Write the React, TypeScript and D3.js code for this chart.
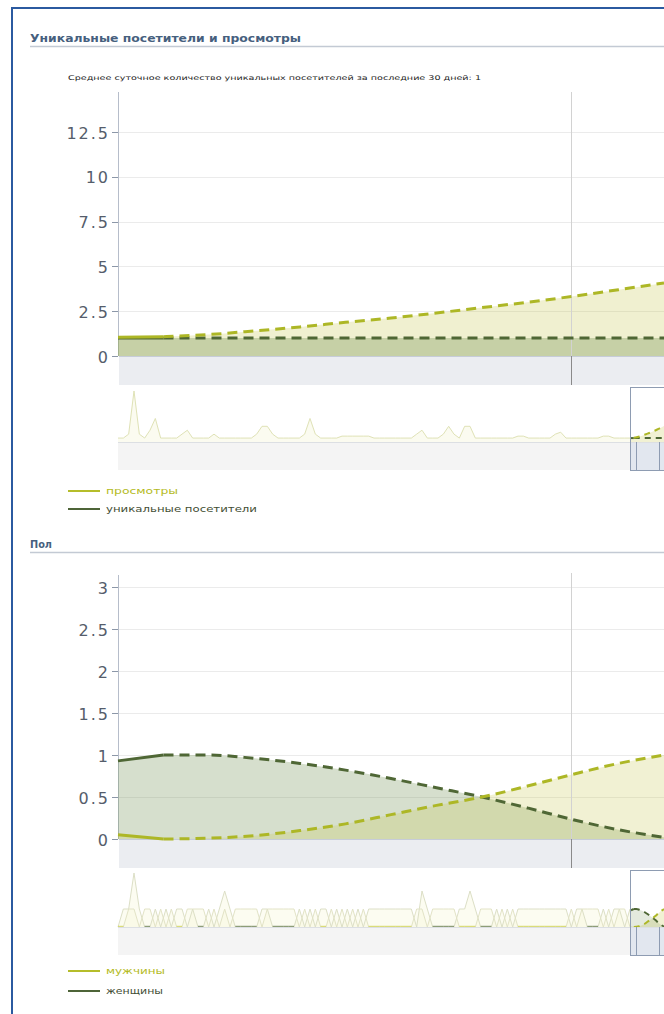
import React from 'react';
import * as d3 from 'd3';

// ---------- DATA ----------
const mainSteps = [0, 1, 2, 3, 4, 5, 6, 7, 8, 9, 10, 11, 12];
const viewsSeries = [1.05, 1.08, 1.2, 1.4, 1.62, 1.88, 2.12, 2.4, 2.7, 3.0, 3.33, 3.7, 4.08];
const visitorsSeries = [1, 1, 1, 1, 1, 1, 1, 1, 1, 1, 1, 1, 1];
const yTicks1 = [0, 2.5, 5, 7.5, 10, 12.5];

const menSeries = [0.05, 0.0, 0.01, 0.04, 0.1, 0.18, 0.29, 0.4, 0.5, 0.63, 0.77, 0.9, 1.0];
const womenSeries = [0.93, 1.0, 1.0, 0.96, 0.9, 0.82, 0.72, 0.61, 0.5, 0.37, 0.23, 0.11, 0.02];
const yTicks2 = [0, 0.5, 1, 1.5, 2, 2.5, 3];

const navViews = [
  1, 1, 2, 13, 2, 1, 3, 6, 1, 1, 1, 1, 2, 3, 1, 1, 1, 1, 2, 1,
  1, 1, 1, 1, 1, 1, 2, 4, 4, 2, 1, 1, 1, 1, 1, 2, 6, 2, 1, 1,
  1, 1, 1.5, 1.5, 1.5, 1.5, 1.5, 1.5, 1, 1, 1, 1, 1, 1, 1, 1, 2, 3, 1, 1,
  1, 2, 4, 2, 1, 4, 4, 1, 1, 1, 1, 1, 1, 1, 1, 1.5, 1.5, 1, 1, 1,
  1, 1, 2, 2.5, 1, 1, 1, 1, 1, 1, 1, 1.5, 1.5, 1, 1, 1, 1,
];

const navWomen = [
  0, 1, 1, 3, 1, 0, 0, 1, 0, 1, 0, 1, 1, 0, 1, 0, 0, 1, 0, 1,
  2, 1, 0, 0, 0, 0, 0, 1, 1, 0, 0, 0, 0, 0, 1, 0, 1, 0, 1, 1,
  0, 1, 0, 1, 0, 1, 0, 1, 1, 1, 1, 1, 1, 1, 1, 1, 0, 2, 1, 0,
  0, 0, 0, 0, 1, 1, 2, 1, 0, 0, 0, 1, 0, 1, 0, 1, 1, 1, 1, 1,
  1, 1, 1, 1, 1, 0, 1, 1, 0, 0, 0, 1, 0, 1, 1, 0, 1,
];
const navMen = [
  0, 0, 1, 1, 0, 1, 1, 0, 1, 0, 1, 0, 0, 1, 1, 1, 1, 0, 1, 0,
  1, 0, 1, 1, 1, 1, 1, 0, 1, 1, 1, 1, 1, 1, 0, 1, 0, 1, 0, 0,
  1, 0, 1, 0, 1, 0, 1, 0, 0, 0, 0, 0, 0, 0, 0, 0, 1, 1, 0, 1,
  1, 1, 1, 1, 0, 0, 0, 0, 1, 1, 1, 0, 1, 0, 1, 0, 0, 0, 0, 0,
  0, 0, 0, 0, 0, 1, 0, 1, 1, 1, 1, 0, 1, 0, 1, 1, 0,
];

const title1 = 'Уникальные посетители и просмотры';
const subtitle1 = 'Среднее суточное количество уникальных посетителей за последние 30 дней: 1';
const title2 = 'Пол';
const legend1 = ['просмотры', 'уникальные посетители'];
const legend2 = ['мужчины', 'женщины'];

// ---------- STYLE ----------
const YELLOW = '#adb726';
const GREEN = '#4f6735';
const FONT = 'DejaVu Sans, Verdana, sans-serif';

const x = d3.scaleLinear().domain([0, 12]).range([118, 664]);
const miniX = d3.scaleLinear().domain([0, 12]).range([631, 664]);
const navX = d3.scaleLinear().domain([0, navViews.length - 1]).range([118, 630]);

function splitLines(values: number[], ys: d3.ScaleLinear<number, number>, xs: d3.ScaleLinear<number, number>) {
  const line = d3
    .line<number>()
    .x((_, i) => xs(mainSteps[i]))
    .y((d) => ys(d))
    .curve(d3.curveMonotoneX);
  const lineD = d3
    .line<number>()
    .x((_, i) => xs(mainSteps[i + 1]))
    .y((d) => ys(d))
    .curve(d3.curveMonotoneX);
  return { solid: line(values.slice(0, 2)) || '', dashed: lineD(values.slice(1)) || '' };
}

function areaPath(values: number[], ys: d3.ScaleLinear<number, number>, xs: d3.ScaleLinear<number, number>) {
  return (
    d3
      .area<number>()
      .x((_, i) => xs(mainSteps[i]))
      .y0(ys(0))
      .y1((d) => ys(d))
      .curve(d3.curveMonotoneX)(values) || ''
  );
}

function fmt(v: number) {
  return String(v);
}

function YAxis({ ticks, ys, top }: { ticks: number[]; ys: d3.ScaleLinear<number, number>; top: number }) {
  return (
    <g>
      {ticks.map((t) =>
        t === 0 ? null : (
          <line key={'g' + t} x1={119} x2={664} y1={Math.round(ys(t)) + 0.5} y2={Math.round(ys(t)) + 0.5} stroke="#ebebeb" />
        )
      )}
      <line x1={118.5} x2={118.5} y1={top} y2={ys(0)} stroke="#b6bdca" />
      {ticks.map((t) => (
        <g key={'t' + t}>
          <line x1={112} x2={118} y1={Math.round(ys(t)) + 0.5} y2={Math.round(ys(t)) + 0.5} stroke="#8c97a8" />
          <text
            x={110}
            y={ys(t) + 1}
            textAnchor="end"
            dominantBaseline="central"
            fontFamily={FONT}
            fontSize={16}
            letterSpacing={2}
            fill="#555d6b"
          >
            {fmt(t)}
          </text>
        </g>
      ))}
    </g>
  );
}

function Navigator({
  top,
  base,
  bottom,
  children,
}: {
  top: number;
  base: number;
  bottom: number;
  children: React.ReactNode;
}) {
  return (
    <g>
      <rect x={118} y={base} width={546} height={bottom - base} fill="#f4f4f4" />
      {children}
      <line x1={118} x2={664} y1={base + 0.5} y2={base + 0.5} stroke="#dcdfe3" />
      <rect x={631} y={base + 1} width={33} height={bottom - base - 1} fill="#e2e7ef" />
      <rect x={630.5} y={top + 0.5} width={40} height={bottom - top} fill="none" stroke="#8e9cb2" />
      <line x1={636.5} x2={636.5} y1={base} y2={bottom} stroke="#8e9cb2" />
      <line x1={659.5} x2={659.5} y1={base} y2={bottom} stroke="#8e9cb2" />
    </g>
  );
}

function Legend({ items, colors, textColors, y0, dy, widths }: { items: string[]; colors: string[]; textColors: string[]; y0: number; dy: number; widths: number[] }) {
  return (
    <g>
      {items.map((s, i) => (
        <g key={s}>
          <line x1={68} x2={100} y1={y0 + i * dy} y2={y0 + i * dy} stroke={colors[i]} strokeWidth={2} />
          <text
            x={106}
            y={y0 + i * dy + 3}
            fontFamily={FONT}
            fontSize={8}
            fill={textColors[i]}
            textLength={widths[i]}
            lengthAdjust="spacingAndGlyphs"
          >
            {s}
          </text>
        </g>
      ))}
    </g>
  );
}

function zeroRuns(values: number[]) {
  const runs: [number, number][] = [];
  for (let i = 0; i < values.length - 1; i++) {
    if (values[i] === 0 && values[i + 1] === 0) runs.push([i, i + 1]);
  }
  return runs;
}

export default function App() {
  // chart 1
  const y1 = d3.scaleLinear().domain([0, 12.5]).range([356, 132]);
  const nav1Y = d3.scaleLinear().domain([0, 13]).range([442, 391]);
  const views = splitLines(viewsSeries, y1, x);
  const visitors = splitLines(visitorsSeries, y1, x);
  const navArea1 =
    d3
      .area<number>()
      .x((_, i) => navX(i))
      .y0(nav1Y(0))
      .y1((d) => nav1Y(d))(navViews) || '';
  const navLine1 =
    d3
      .line<number>()
      .x((_, i) => navX(i))
      .y((d) => nav1Y(d))(navViews) || '';
  const miniViews = splitLines(viewsSeries, nav1Y, miniX);
  const miniVisitors = splitLines(visitorsSeries, nav1Y, miniX);

  // chart 2
  const y2 = d3.scaleLinear().domain([0, 3]).range([839, 587]);
  const nav2Y = d3.scaleLinear().domain([0, 3]).range([927, 873]);
  const men = splitLines(menSeries, y2, x);
  const women = splitLines(womenSeries, y2, x);
  const navAreaGen = d3
    .area<number>()
    .x((_, i) => navX(i))
    .y0(nav2Y(0))
    .y1((d) => nav2Y(d));
  const navLineGen = d3
    .line<number>()
    .x((_, i) => navX(i))
    .y((d) => nav2Y(d));
  const miniMen = splitLines(menSeries, nav2Y, miniX);
  const miniWomen = splitLines(womenSeries, nav2Y, miniX);

  return (
    <svg
      width={664}
      height={1014}
      viewBox="0 0 664 1014"
      style={{ position: 'absolute', left: 0, top: 0, background: '#fff' }}
    >
      <rect x={0} y={0} width={664} height={1014} fill="#fff" />
      {/* outer border */}
      <path d="M12 1014 V8 H664" fill="none" stroke="#2b5aa0" strokeWidth={2} />

      {/* ---------------- Chart 1 ---------------- */}
      <text x={30} y={42} fontFamily={FONT} fontSize={10.5} fontWeight="bold" fill="#46607e" textLength={271} lengthAdjust="spacingAndGlyphs">
        {title1}
      </text>
      <line x1={30} x2={664} y1={46.5} y2={46.5} stroke="#c3cad4" strokeWidth={1.5} />
      <text x={68} y={80} fontFamily={FONT} fontSize={6.5} fill="#222" textLength={413} lengthAdjust="spacingAndGlyphs">
        {subtitle1}
      </text>

      <rect x={119} y={356} width={545} height={29} fill="#ebedf1" />
      <YAxis ticks={yTicks1} ys={y1} top={92} />
      <path d={areaPath(viewsSeries, y1, x)} fill="rgba(200,200,80,0.27)" />
      <path d={areaPath(visitorsSeries, y1, x)} fill="rgba(120,150,90,0.35)" />
      <line x1={119} x2={664} y1={356.5} y2={356.5} stroke="#c6ccd8" />
      <line x1={571.5} x2={571.5} y1={92} y2={356} stroke="#d2d2d2" />
      <line x1={571.5} x2={571.5} y1={356} y2={385} stroke="#8a8a8a" />
      <path d={visitors.solid} fill="none" stroke={GREEN} strokeWidth={3} />
      <path d={visitors.dashed} fill="none" stroke={GREEN} strokeWidth={3} strokeDasharray="10,6" />
      <path d={views.solid} fill="none" stroke={YELLOW} strokeWidth={3} />
      <path d={views.dashed} fill="none" stroke={YELLOW} strokeWidth={3} strokeDasharray="10,6" />

      <Navigator top={387} base={442} bottom={470}>
        <path d={navArea1} fill="#fbfbf0" />
        <path d={navLine1} fill="none" stroke="#dfe2b6" strokeWidth={1} />
        <path d={areaPath(viewsSeries, nav1Y, miniX)} fill="rgba(200,200,80,0.25)" />
        <path d={miniVisitors.dashed} fill="none" stroke={GREEN} strokeWidth={2} strokeDasharray="6,5" />
        <path d={miniVisitors.solid} fill="none" stroke={GREEN} strokeWidth={2} />
        <path d={miniViews.dashed} fill="none" stroke={YELLOW} strokeWidth={2} strokeDasharray="6,5" />
      </Navigator>

      <Legend
        items={legend1}
        colors={['#b5bd2a', '#4e6438']}
        textColors={['#b3ba22', '#3f4d33']}
        y0={491}
        dy={18}
        widths={[72, 151]}
      />

      {/* ---------------- Chart 2 ---------------- */}
      <text x={30} y={548} fontFamily={FONT} fontSize={10} fontWeight="bold" fill="#46607e" textLength={22} lengthAdjust="spacingAndGlyphs">
        {title2}
      </text>
      <line x1={30} x2={664} y1={552.5} y2={552.5} stroke="#c3cad4" strokeWidth={1.5} />

      <rect x={119} y={839} width={545} height={29} fill="#ebedf1" />
      <YAxis ticks={yTicks2} ys={y2} top={575} />
      <path d={areaPath(womenSeries, y2, x)} fill="rgba(120,150,90,0.3)" />
      <path d={areaPath(menSeries, y2, x)} fill="rgba(200,200,80,0.25)" />
      <line x1={119} x2={664} y1={839.5} y2={839.5} stroke="#c6ccd8" />
      <line x1={571.5} x2={571.5} y1={573} y2={839} stroke="#d2d2d2" />
      <line x1={571.5} x2={571.5} y1={839} y2={868} stroke="#8a8a8a" />
      <path d={women.solid} fill="none" stroke={GREEN} strokeWidth={3} />
      <path d={women.dashed} fill="none" stroke={GREEN} strokeWidth={3} strokeDasharray="10,6" />
      <path d={men.solid} fill="none" stroke={YELLOW} strokeWidth={3} />
      <path d={men.dashed} fill="none" stroke={YELLOW} strokeWidth={3} strokeDasharray="10,6" />

      <Navigator top={870} base={927} bottom={955}>
        <path d={navAreaGen(navWomen) || ''} fill="rgba(245,245,215,0.35)" />
        <path d={navAreaGen(navMen) || ''} fill="rgba(245,245,215,0.35)" />
        <path d={navLineGen(navWomen) || ''} fill="none" stroke="#dcdfc6" strokeWidth={1} />
        <path d={navLineGen(navMen) || ''} fill="none" stroke="#e2e3c6" strokeWidth={1} />
        {zeroRuns(navWomen).map(([a, b]) => (
          <line key={'w' + a} x1={navX(a)} x2={navX(b)} y1={926.5} y2={926.5} stroke="#4f6735" strokeOpacity={0.6} strokeWidth={1.5} />
        ))}
        {zeroRuns(navMen).map(([a, b]) => (
          <line key={'m' + a} x1={navX(a)} x2={navX(b)} y1={926.5} y2={926.5} stroke="#c9cc2a" strokeOpacity={0.55} strokeWidth={1.5} />
        ))}
        <path d={areaPath(menSeries, nav2Y, miniX)} fill="rgba(200,200,80,0.25)" />
        <path d={areaPath(womenSeries, nav2Y, miniX)} fill="rgba(120,150,90,0.2)" />
        <path d={miniWomen.solid} fill="none" stroke={GREEN} strokeWidth={2} />
        <path d={miniWomen.dashed} fill="none" stroke={GREEN} strokeWidth={2} strokeDasharray="6,5" />
        <path d={miniMen.dashed} fill="none" stroke={YELLOW} strokeWidth={2} strokeDasharray="6,5" />
      </Navigator>

      <Legend
        items={legend2}
        colors={['#b5bd2a', '#4e6438']}
        textColors={['#b3ba22', '#3f4d33']}
        y0={971}
        dy={20}
        widths={[59, 57]}
      />
    </svg>
  );
}
